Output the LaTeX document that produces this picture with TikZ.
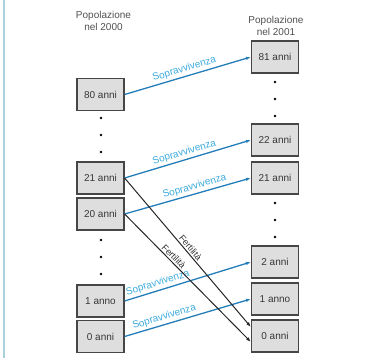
\documentclass[tikz,border=0pt]{standalone}
\usepackage{fontspec}
\setmainfont{Liberation Sans}
\usetikzlibrary{arrows.meta}
\definecolor{boxfill}{RGB}{222,222,222}
\definecolor{boxline}{RGB}{70,70,70}
\definecolor{boxtext}{RGB}{55,55,55}
\definecolor{survline}{RGB}{35,125,185}
\definecolor{survtext}{RGB}{60,170,220}
\definecolor{frameblue}{RGB}{170,208,220}
\definecolor{headtext}{RGB}{80,80,80}
\tikzset{
  agebox/.style={draw=boxline, fill=boxfill, line width=1.2pt, minimum width=47pt, minimum height=32pt, inner sep=0pt, text=boxtext, font=\fontsize{10}{12}\selectfont},
  header/.style={align=center, text=headtext, font=\fontsize{10}{11.5}\selectfont},
  surv/.style={draw=survline, line width=1.3pt, -{Latex[length=5pt,width=3.5pt]}},
  fert/.style={draw=black!85, line width=1pt, -{Latex[length=5pt,width=3.5pt]}},
  survlab/.style={sloped, above, text=survtext, font=\fontsize{10}{12}\selectfont, inner sep=2pt},
  fertlab/.style={sloped, above, text=black!80, font=\fontsize{9}{11}\selectfont, inner sep=1.5pt},
  dotmark/.style={circle, fill=black, inner sep=0pt, minimum size=2.8pt}
}
\begin{document}
\begin{tikzpicture}[x=1pt,y=-1pt]
\useasboundingbox (0,0) rectangle (366,358);
\draw[frameblue, line width=2pt] (4,0) -- (4,358);
% headers
\node[header] (h0) at (103.5,21) {Popolazione\\nel 2000};
\node[header] (h1) at (276,26) {Popolazione\\nel 2001};
% left column
\node[agebox] (L80) at (100.5,94.5) {80 anni};
\node[agebox] (L21) at (100.5,178) {21 anni};
\node[agebox] (L20) at (100.5,214) {20 anni};
\node[agebox] (L1) at (100.5,301) {1 anno};
\node[agebox] (L0) at (100.5,336.5) {0 anni};
% right column
\node[agebox] (R81) at (275,57) {81 anni};
\node[agebox] (R22) at (275,140) {22 anni};
\node[agebox] (R21) at (275,178) {21 anni};
\node[agebox] (R2) at (275,262) {2 anni};
\node[agebox] (R1) at (275,299) {1 anno};
\node[agebox] (R0) at (275,336) {0 anni};
% dots
\foreach \y [count=\i] in {118,135,152,240,257,274} \node[dotmark] (dl\i) at (101,\y) {};
\foreach \y [count=\i] in {82,99,116,203,220,237} \node[dotmark] (dr\i) at (275,\y) {};
% survival arrows
\draw[surv] (L80.east) -- node[survlab, pos=0.49] {Sopravvivenza} (R81.west);
\draw[surv] (L21.east) -- node[survlab, pos=0.49] {Sopravvivenza} (R22.west);
\draw[surv] (L20.east) -- node[survlab, pos=0.57] {Sopravvivenza} (R21.west);
\draw[surv] (L1.east) -- node[survlab, pos=0.28] {Sopravvivenza} (R2.west);
\draw[surv] (L0.east) -- node[survlab, pos=0.33] {Sopravvivenza} (R1.west);
% fertility arrows
\draw[fert] (L21.east) -- node[fertlab, pos=0.49] {Fertilità} ([yshift=9pt]R0.west);
\draw[fert] (L20.east) -- node[fertlab, pos=0.36] {Fertilità} ([yshift=-6pt]R0.west);
\end{tikzpicture}
\end{document}
